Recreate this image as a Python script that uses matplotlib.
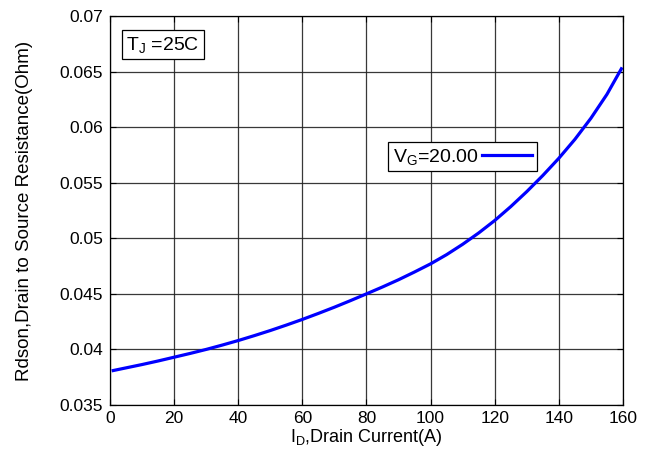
import matplotlib
matplotlib.use("Agg")
import matplotlib.pyplot as plt

drain_current = [1, 5, 10, 15, 20, 25, 30, 35, 40, 45, 50, 55, 60, 65, 70, 75, 80, 85, 90, 95,
                 100, 105, 110, 115, 120, 125, 130, 135, 140, 145, 150, 155, 159.5]
rdson = [0.03810, 0.03834, 0.03864, 0.03896, 0.03930, 0.03964, 0.04000, 0.04039, 0.04080,
         0.04124, 0.04170, 0.04219, 0.04270, 0.04324, 0.04380, 0.04439, 0.04500, 0.04562,
         0.04627, 0.04697, 0.04770, 0.04853, 0.04946, 0.05048, 0.05160, 0.05285, 0.05420,
         0.05565, 0.05720, 0.05890, 0.06080, 0.06295, 0.06525]
x_ticks = [0, 20, 40, 60, 80, 100, 120, 140, 160]
y_ticks = [0.035, 0.04, 0.045, 0.05, 0.055, 0.06, 0.065, 0.07]
y_tick_labels = ["0.035", "0.04", "0.045", "0.05", "0.055", "0.06", "0.065", "0.07"]

plt.rcParams['font.family'] = ['Liberation Sans', 'DejaVu Sans']
plt.rcParams['mathtext.fontset'] = 'custom'
plt.rcParams['mathtext.rm'] = 'Liberation Sans'
plt.rcParams['mathtext.it'] = 'Liberation Sans'

fig = plt.figure(figsize=(6.53, 4.61), dpi=100)
ax = fig.add_axes([0.1685, 0.1215, 0.7855, 0.8438])

ax.plot(drain_current, rdson, color='#0000ff', lw=2.3, label='V$_\\mathrm{G}$=20.00')
ax.set_xlim(0, 160)
ax.set_ylim(0.035, 0.07)
ax.set_xticks(x_ticks)
ax.set_yticks(y_ticks)
ax.set_yticklabels(y_tick_labels)
ax.grid(True, color='#222222', lw=0.9, alpha=0.9)
ax.tick_params(axis='both', direction='in', length=4, top=True, right=True, labelsize=12.5)
ax.tick_params(axis='x', pad=4)
ax.tick_params(axis='y', pad=5)
for s in ax.spines.values():
    s.set_linewidth(0.9)

ax.set_xlabel('I$_\\mathrm{D}$,Drain Current(A)', fontsize=13, labelpad=1)
ax.set_ylabel('Rdson,Drain to Source Resistance(Ohm)', fontsize=13.5, labelpad=19)

ax.text(0.032, 0.952, 'T$_\\mathrm{J}$ =25C', transform=ax.transAxes, ha='left', va='top',
        fontsize=14, bbox=dict(boxstyle='square,pad=0.22', fc='white', ec='black', lw=0.9))

leg = ax.legend(loc='upper right', bbox_to_anchor=(0.833, 0.677), markerfirst=False,
                frameon=True, fancybox=False, edgecolor='black', framealpha=1,
                borderpad=0.25, handlelength=2.6, handletextpad=0.15, fontsize=14,
                borderaxespad=0)
leg.get_frame().set_linewidth(0.9)

fig.savefig('out.png', dpi=100)
